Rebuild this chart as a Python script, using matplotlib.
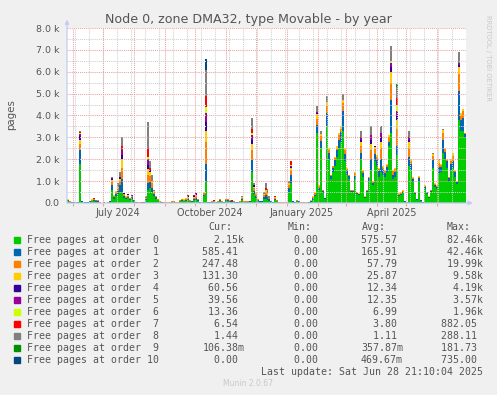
import datetime as dt
import numpy as np
import matplotlib
matplotlib.use("Agg")
import matplotlib.pyplot as plt
import matplotlib.dates as mdates
from matplotlib.transforms import blended_transform_factory

# ---- data: thousands of pages, 2-day buckets from 2024-05-25 ----
start = dt.datetime(2024, 5, 25, 16)
bucket_days = 2

order0 = [
    .08, .04, .02, .02, .01, .02, 1.8, .06, .04, .02, .02, .05, .08, .08, .05, .06, .01, 0, .01, 0,
    .01, .05, .6, .2, .3, .4, .5, .5, .25, .18, .22, .15, .2, .09, .02, .01, .01, .01, .02, .12,
    .6, .7, .5, .3, .2, .12, .05, .02, .01, .01, .01, .01, .04, .04, .01, .01, .07, .08, .07, .1,
    .12, .07, .05, .12, .15, .09, .02, .01, .3, 1.0, .02, .02, .04, .04, .02, .04, .08, .04, .02, .08,
    .08, .06, .05, .04, .02, .02, .04, .12, .04, .03, .04, .05, 1.4, .4, .25, .1, .06, .06, .2, .2,
    .15, .1, .05, .02, .12, .07, .01, .01, .01, .01, .01, .5, .9, .05, .02, .07, .05, .01, .01, .01,
    .01, .02, .06, .15, .3, 3.2, .6, 2.5, .45, .18, 3.5, 2.0, 1.1, 1.4, 1.7, 2.1, 2.5, 2.8, 3.3, 1.9,
    1.3, 1.1, .5, .5, 1.1, .4, .35, 2.0, 1.2, .25, .5, 1.0, 1.5, .8, 1.9, 1.7, 1.2, 1.4, 1.3, 1.2,
    1.4, 2.6, 3.2, 1.1, 1.2, 2.2, .3, .35, .45, .06, .03, 1.7, 1.5, .95, .4, .15, 1.0, .1, .02, .65,
    .4, .25, .5, 1.6, .75, .65, 1.35, 1.4, 2.3, 2.0, 1.6, 1.0, 1.5, 1.6, 1.2, .85, 3.8, 3.3, 3.3, 3.0,
]
order1 = [
    .04, .02, .01, .01, .01, .01, .6, .01, .01, .01, .01, .02, .03, .04, .02, .03, .01, 0, 0, 0,
    .01, .02, .2, .06, .1, .15, .3, .6, .08, .05, .07, .04, .06, .03, .01, .01, .01, .01, .01, .05,
    .3, .25, .2, .1, .06, .03, .01, .01, .01, .01, .01, .01, .02, .02, .01, .01, .03, .04, .04, .05,
    .06, .03, .02, .06, .08, .04, .01, .01, .08, .8, .01, .01, .02, .02, .01, .02, .04, .02, .01, .04,
    .04, .03, .03, .02, .01, .01, .02, .06, .02, .02, .02, .02, .55, .15, .08, .04, .02, .02, .08, .15,
    .12, .06, .02, .01, .06, .03, .01, .01, .01, .01, .01, .2, .4, .02, .01, .03, .02, .01, .01, .01,
    .01, .01, .03, .06, .08, .35, .1, .35, .08, .04, .6, .3, .12, .2, .25, .3, .4, .45, .9, .35,
    .2, .15, .06, .06, .15, .05, .05, .3, .15, .03, .06, .12, .5, .12, .35, .3, .25, .6, .25, .18,
    .25, .2, 1.5, .2, .2, .4, .06, .06, .07, .02, .01, .4, .3, .15, .05, .03, .15, .03, .01, .08,
    .05, .03, .06, .35, .08, .08, .3, .25, .6, .35, .3, .14, .3, .3, .2, .1, 1.3, .5, .6, .15,
]
order2 = [
    .03, .01, .01, .01, .01, .01, .3, .01, 0, 0, 0, .02, .03, .04, .02, .03, .01, .01, .01, .01,
    .01, .02, .15, .05, .08, .12, .2, .5, .06, .04, .05, .03, .04, .02, .01, .01, .01, 0, .01, .05,
    .4, .3, .2, .08, .05, .03, .01, .01, .01, .01, .01, .01, .01, .01, .01, .01, .03, .04, .04, .05,
    .06, .03, .02, .06, .07, .03, .01, .01, .06, 1.0, .01, .01, .02, .02, .01, .02, .04, .01, .01, .04,
    .04, .03, .02, .02, .01, .01, .02, .05, .02, .02, .02, .02, .45, .12, .07, .03, .01, .01, .07, .15,
    .1, .05, .02, .01, .05, .03, .01, .01, .01, .01, .01, .12, .2, .02, .01, .03, .02, .01, .01, .01,
    .01, .01, .02, .05, .07, .3, .06, .2, .05, .02, .35, .12, .05, .07, .1, .12, .2, .15, .35, .15,
    .07, .05, .03, .03, .1, .03, .03, .3, .1, .01, .03, .05, .4, .05, .2, .12, .1, .5, .1, .08,
    .1, .2, .8, .15, .15, .8, .05, .05, .05, .01, .01, .4, .12, .06, .03, .01, .06, .01, 0, .04,
    .03, .01, .03, .2, .04, .04, .2, .1, .3, .1, .07, .04, .13, .25, .07, .03, .8, .2, .3, .03,
]
order3 = [
    .02, .01, 0, 0, 0, .01, .2, 0, 0, 0, 0, .01, .02, .02, .01, .02, 0, 0, 0, 0,
    0, .01, .1, .04, .05, .08, .1, .4, .04, .03, .04, .03, .03, .01, 0, 0, 0, 0, .01, .03,
    .25, .15, .1, .05, .03, .02, .01, 0, 0, 0, 0, 0, .01, .01, 0, 0, .02, .02, .02, .03,
    .04, .02, .01, .04, .05, .02, .01, 0, .04, .5, .01, 0, .01, .01, .01, .01, .02, .01, .01, .02,
    .02, .02, .01, .01, .01, .01, .01, .03, .01, .01, .01, .01, .3, .08, .04, .02, .01, .01, .05, .1,
    .08, .03, .01, .01, .03, .02, 0, 0, 0, 0, 0, .08, .1, .01, .01, .02, .01, 0, 0, 0,
    0, .01, .01, .04, .05, .2, .04, .1, .02, .01, .15, .08, .03, .03, .05, .08, .1, .1, .15, .1,
    .03, 0, .01, .01, .05, .02, .02, .2, .05, .01, .01, .03, .3, .03, .1, .08, .05, .3, .05, .04,
    .05, .1, .5, .05, .05, .4, .04, .04, .03, .01, 0, .3, .08, .04, .02, .01, .04, .01, 0, .03,
    .02, .01, .01, .1, .03, .03, .1, .05, .15, .05, .03, .02, .07, .15, .03, .02, .3, .1, .1, .02,
]
# higher orders only show up in a few buckets: {bucket: value}
order4 = {0: .03, 6: .15, 15: .01, 22: .05, 26: .1, 27: .2, 28: .02, 30: .02, 40: .2, 41: .1,
          59: .02, 60: .03, 63: .04, 64: .05, 69: .4, 72: .01, 73: .02, 92: .2, 93: .05, 94: .03,
          104: .02, 112: .05, 125: .05, 147: .1, 152: .2, 154: .05, 157: .2, 162: .2, 165: .2,
          171: .1, 196: .1}
order5 = {6: .1, 22: .05, 27: .2, 32: .02, 40: .25, 58: .01, 60: .02, 63: .03, 64: .05, 69: .4,
          73: .01, 92: .2, 112: .05, 125: .05, 147: .1, 152: .2, 157: .2, 162: .2, 165: .2,
          171: .1, 196: .1}
order6 = {6: .05, 40: .1, 69: .3, 92: .1, 112: .05, 162: .1, 165: .3}
order7 = {2: .01, 3: .01, 6: .05, 12: .02, 13: .04, 16: .01, 17: .01, 18: .01, 19: .01, 27: .2,
          34: .01, 35: .01, 36: .01, 37: .01, 40: .4, 41: .1, 57: .02, 60: .02, 65: .02, 69: .5,
          75: .01, 76: .02, 79: .02, 81: .01, 82: .01, 83: .01, 86: .01, 87: .02, 88: .01,
          90: .01, 92: .2, 94: .03, 95: .01, 99: .1, 100: .05, 104: .02, 112: .15, 145: .01,
          165: .3}
order8 = {6: .05, 14: .02, 22: .05, 24: .02, 25: .15, 26: .2, 27: .4, 39: .05, 40: 1.2, 41: .3,
          42: .3, 43: .07, 68: .02, 69: 1.2, 80: .02, 87: .02, 92: .5, 93: .1, 98: .1, 99: .2,
          100: .15, 101: .06, 111: .1, 125: .3, 127: .15, 130: .3, 138: .3, 147: .3, 152: .4,
          157: .3, 162: .7, 165: .5, 171: .3, 183: .05, 186: .05, 188: .05, 196: .5}
order9 = {165: .15}
order10 = {69: .5}

labels = ["Free pages at order %2d" % i for i in range(11)]
colors = ["#00CC00", "#0066B3", "#FF8000", "#FFCC00", "#330099", "#990099",
          "#CCFF00", "#FF0000", "#808080", "#008F00", "#00487D"]
cur = ["2.15k", "585.41", "247.48", "131.30", "60.56", "39.56", "13.36", "6.54", "1.44", "106.38m", "0.00"]
mins = ["0.00"] * 11
avg = ["575.57", "165.91", "57.79", "25.87", "12.34", "12.35", "6.99", "3.80", "1.11", "357.87m", "469.67m"]
mx = ["82.46k", "42.46k", "19.99k", "9.58k", "4.19k", "3.57k", "1.96k", "882.05", "288.11", "181.73", "735.00"]

ytick_vals = [0, 1000, 2000, 3000, 4000, 5000, 6000, 7000, 8000]
ytick_labels = ["0.0", "1.0 k", "2.0 k", "3.0 k", "4.0 k", "5.0 k", "6.0 k", "7.0 k", "8.0 k"]
xlabel_dates = [dt.datetime(2024, 7, 16), dt.datetime(2024, 10, 16),
                dt.datetime(2025, 1, 16), dt.datetime(2025, 4, 16)]
xlabel_text = ["July 2024", "October 2024", "January 2025", "April 2025"]

W, H = 497, 395
TXT = "#555555"
AXIS = "#c4ccf4"
MGRID = "#ee9f9f"
GRID = "#cfcfcf"

n = len(order0)


def dense(d):
    a = np.zeros(n)
    for k, v in d.items():
        a[k] = v
    return a


series = [np.array(order0), np.array(order1), np.array(order2), np.array(order3),
          dense(order4), dense(order5), dense(order6), dense(order7), dense(order8),
          dense(order9), dense(order10)]

edges = mdates.date2num([start + dt.timedelta(days=bucket_days * i) for i in range(n + 1)])
end = start + dt.timedelta(days=bucket_days * n)

fig = plt.figure(figsize=(W / 100, H / 100), dpi=100, facecolor="#F0F0F0")
ax = fig.add_axes([67 / W, 1 - 203 / H, 399 / W, 175 / H])
ax.set_facecolor("white")

base = np.zeros(n + 1)
for vals, col in zip(series, colors):
    top = base + np.append(vals, vals[-1]) * 1000
    ax.fill_between(edges, base, top, step="post", color=col, linewidth=0, zorder=2)
    base = top

ax.set_xlim(mdates.date2num(start), mdates.date2num(end))
ax.set_ylim(0, 8000)

# grid: minor every 500 / every two weeks, major every 1000 / each month
for y in range(500, 8001, 1000):
    ax.axhline(y, color=GRID, lw=0.75, ls=(0, (1, 1)), zorder=3)
for y in range(1000, 8001, 1000):
    ax.axhline(y, color=MGRID, lw=0.75, ls=(0, (1, 1)), zorder=3)
d = dt.datetime(2024, 6, 3)
while d < end:
    ax.axvline(mdates.date2num(d), color=GRID, lw=0.75, ls=(0, (1, 1)), zorder=3)
    d += dt.timedelta(days=14)
months = []
y_, m_ = 2024, 6
while dt.datetime(y_, m_, 1) < end:
    months.append(dt.datetime(y_, m_, 1))
    m_ += 1
    if m_ > 12:
        y_, m_ = y_ + 1, 1
for m in months:
    ax.axvline(mdates.date2num(m), color=MGRID, lw=0.75, ls=(0, (1, 1)), zorder=3)

for s in ax.spines.values():
    s.set_visible(False)
ax.set_xticks(mdates.date2num(months))
ax.set_xticklabels([])
ax.tick_params(axis="x", length=2.5, width=0.75, color=MGRID, direction="out")
ax.set_yticks(ytick_vals)
ax.set_yticklabels(ytick_labels, fontsize=6.8, color=TXT)
ax.tick_params(axis="y", length=0, pad=5.5)

tr = blended_transform_factory(ax.transData, ax.transAxes)
for dte, lab in zip(xlabel_dates, xlabel_text):
    ax.text(mdates.date2num(dte), -0.057, lab, transform=tr, ha="center", va="center",
            fontsize=6.9, color=TXT)

# axes with arrows
ax.annotate("", xy=(0, 1.048), xytext=(0, 0), xycoords="axes fraction",
            arrowprops=dict(arrowstyle="-|>", color=AXIS, lw=0.9, mutation_scale=6,
                            shrinkA=0, shrinkB=0), annotation_clip=False)
ax.annotate("", xy=(1.017, 0), xytext=(0, 0), xycoords="axes fraction",
            arrowprops=dict(arrowstyle="-|>", color=AXIS, lw=0.9, mutation_scale=6,
                            shrinkA=0, shrinkB=0), annotation_clip=False)


def fx(px):
    return px / W


def fy(py):
    return 1 - py / H


fig.text(fx(248.5), fy(19.5), "Node 0, zone DMA32, type Movable - by year",
         ha="center", va="center", fontsize=9.1, color=TXT)
fig.text(fx(11), fy(115), "pages", rotation=90, ha="center", va="center",
         fontsize=7.4, color=TXT)
fig.text(fx(488), fy(58), "RRDTOOL / TOBI OETIKER", rotation=270, ha="center",
         va="center", fontsize=4.9, color="#c8c8c8")

mono = dict(family="DejaVu Sans Mono", fontsize=7.13, color=TXT, va="center")
for px, head in zip([208.7, 287.7, 361.7, 446.7], ["Cur:", "Min:", "Avg:", "Max:"]):
    fig.text(fx(px), fy(227), head, ha="left", **mono)


def field(s):
    if s[-1] in "km":
        return "%6s%s" % (s[:-1], s[-1])
    return "%6s " % s


for i in range(11):
    yy = 239.7 + 12 * i
    fig.patches.append(plt.Rectangle((fx(14), fy(yy + 3)), 6 / W, 6 / H,
                                     transform=fig.transFigure, color=colors[i]))
    fig.text(fx(26.7), fy(yy), labels[i], ha="left", **mono)
    for px, col in zip([202.3, 282.4, 361.0, 440.7], [cur, mins, avg, mx]):
        fig.text(fx(px), fy(yy), field(col[i]), ha="left", **mono)

fig.text(fx(482.7), fy(371.7), "Last update: Sat Jun 28 21:10:04 2025", ha="right", **mono)
fig.text(fx(248), fy(384), "Munin 2.0.67", ha="center", va="center", fontsize=5.5,
         color="#c8c8c8")

fig.savefig("out.png", dpi=100, facecolor=fig.get_facecolor())
